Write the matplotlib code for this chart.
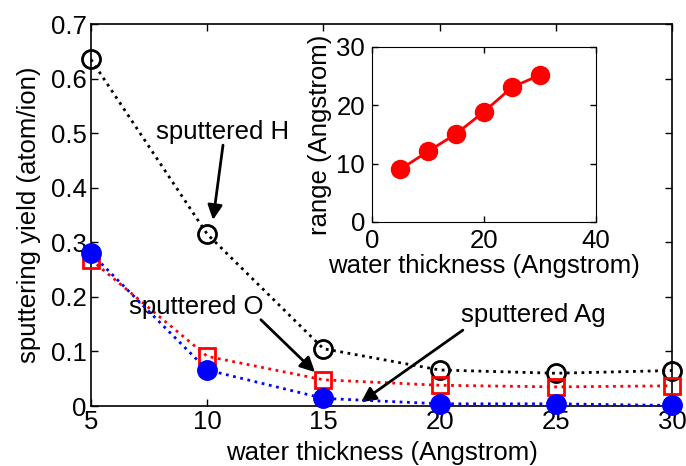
import matplotlib
matplotlib.use("Agg")
import matplotlib.pyplot as plt

plt.rcParams['font.family'] = ['Liberation Sans', 'DejaVu Sans']

thickness = [5, 10, 15, 20, 25, 30]
yield_H = [0.635, 0.315, 0.105, 0.066, 0.060, 0.065]
yield_O = [0.268, 0.091, 0.048, 0.038, 0.035, 0.037]
yield_Ag = [0.280, 0.066, 0.014, 0.004, 0.004, 0.001]

inset_thickness = [5, 10, 15, 20, 25, 30]
inset_range = [9.0, 12.1, 15.1, 18.9, 23.1, 25.2]

FS = 18.5

fig = plt.figure(figsize=(6.86, 4.66), dpi=100)
ax = fig.add_axes([91/686, 60/466, 581/686, 382/466])

ax.plot(thickness, yield_H, linestyle=':', color='k', lw=2, marker='o', ms=13,
        mfc='none', mec='k', mew=2, clip_on=False, zorder=3)
ax.plot(thickness, yield_O, linestyle=':', color='red', lw=2, marker='s', ms=12,
        mfc='none', mec='red', mew=2, clip_on=False, zorder=3)
ax.plot(thickness, yield_Ag, linestyle=':', color='blue', lw=2, marker='o', ms=14,
        mfc='blue', mec='blue', clip_on=False, zorder=4)

ax.set_xlim(5, 30)
ax.set_ylim(0, 0.7)
ax.set_xticks([5, 10, 15, 20, 25, 30])
ax.set_yticks([0, 0.1, 0.2, 0.3, 0.4, 0.5, 0.6, 0.7])
ax.set_yticklabels(['0', '0.1', '0.2', '0.3', '0.4', '0.5', '0.6', '0.7'])
ax.tick_params(direction='in', top=True, right=True, labelsize=FS, length=5, width=1, pad=3)
ax.set_xlabel('water thickness (Angstrom)', fontsize=FS, labelpad=5)
ax.set_ylabel('sputtering yield (atom/ion)', fontsize=FS, labelpad=7)
for s in ax.spines.values():
    s.set_linewidth(1.2)

arrow = dict(arrowstyle='-|>', lw=2, color='k', mutation_scale=22, shrinkA=0, shrinkB=0)
ax.text(10.68, 0.502, 'sputtered H', fontsize=FS, ha='center', va='center')
ax.annotate('', xy=(10.25, 0.341), xytext=(10.68, 0.478), arrowprops=arrow)
ax.text(9.52, 0.181, 'sputtered O', fontsize=FS, ha='center', va='center')
ax.annotate('', xy=(14.64, 0.062), xytext=(12.31, 0.158), arrowprops=arrow)
ax.text(24.02, 0.167, 'sputtered Ag', fontsize=FS, ha='center', va='center')
ax.annotate('', xy=(16.62, 0.007), xytext=(21.0, 0.139), arrowprops=arrow)

ins = fig.add_axes([372/686, 244/466, 224/686, 175/466])
ins.plot(inset_thickness, inset_range, color='red', lw=2, marker='o', ms=13,
         mfc='red', mec='red')
ins.set_xlim(0, 40)
ins.set_ylim(0, 30)
ins.set_xticks([0, 20, 40])
ins.set_yticks([0, 10, 20, 30])
ins.tick_params(direction='in', top=True, right=True, labelsize=FS, length=4, width=1)
ins.tick_params(axis='x', pad=5)
ins.tick_params(axis='y', pad=5)
ins.set_xlabel('water thickness (Angstrom)', fontsize=FS, labelpad=1)
ins.set_ylabel('range (Angstrom)', fontsize=FS, labelpad=3)

fig.savefig('out.png', dpi=100)
